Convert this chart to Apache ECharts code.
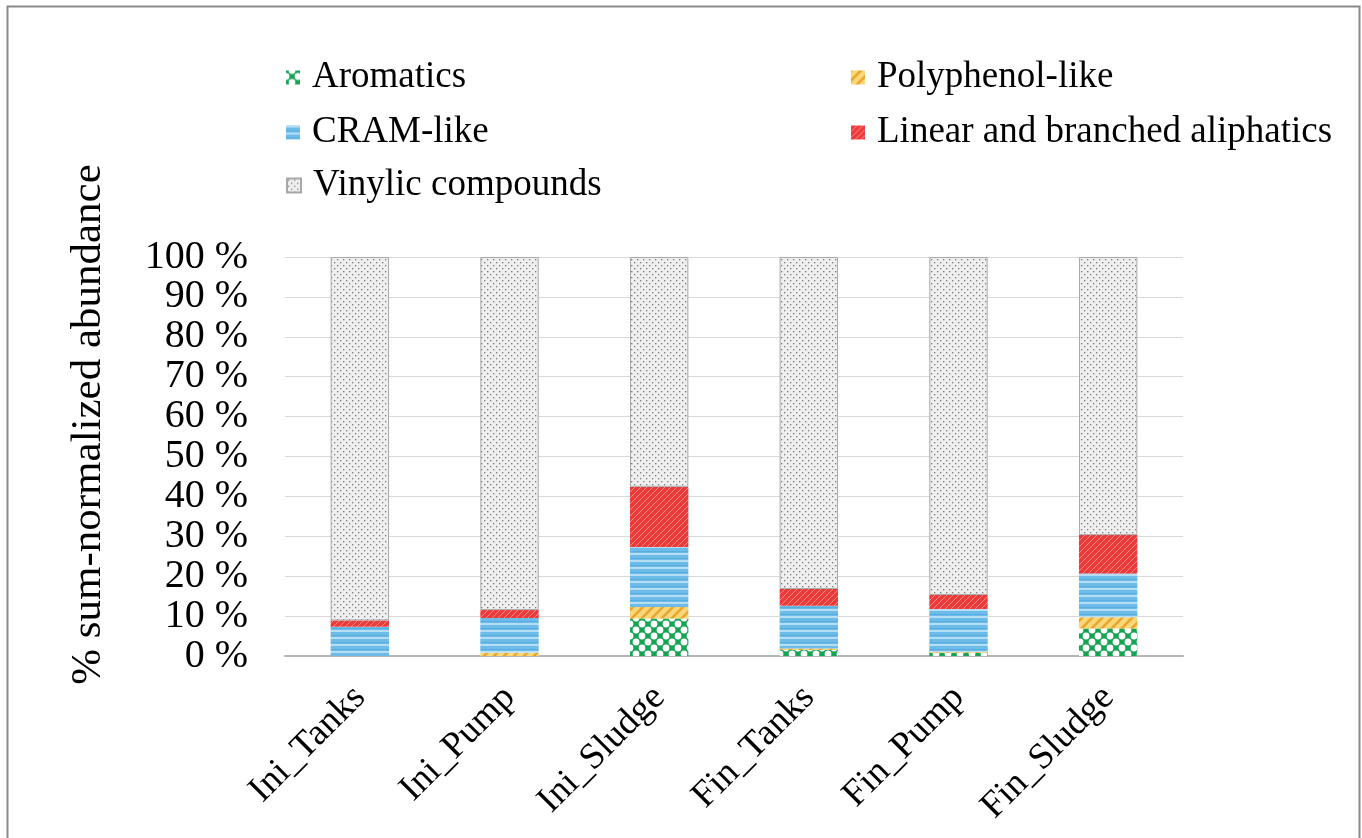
<!DOCTYPE html>
<html>
<head>
<meta charset="utf-8">
<script src="https://cdn.jsdelivr.net/npm/echarts@6/dist/echarts.min.js"></script>
<style>html,body{margin:0;padding:0;background:#fff;}#c{width:1362px;height:838px;}</style>
</head>
<body>
<div id="c"></div>
<script>
const categories = ['Ini_Tanks', 'Ini_Pump', 'Ini_Sludge', 'Fin_Tanks', 'Fin_Pump', 'Fin_Sludge'];
const aromatics = [0, 0, 9.4, 1.5, 0.8, 6.9];
const polyphenol = [0, 0.8, 2.9, 0.4, 0.2, 2.8];
const cram = [7.3, 8.7, 15.0, 10.7, 10.8, 11.0];
const linear = [1.6, 2.0, 15.1, 4.2, 3.5, 9.6];
const vinylic = [91.1, 88.5, 57.6, 83.2, 84.7, 69.7];
const yTicks = [0, 10, 20, 30, 40, 50, 60, 70, 80, 90, 100];

function tile(w, h, draw) {
  const c = document.createElement('canvas');
  c.width = w; c.height = h;
  draw(c.getContext('2d'), w, h);
  return { image: c, repeat: 'repeat' };
}
const patArom = tile(12, 12, (g, w, h) => {
  g.fillStyle = '#13a552'; g.fillRect(0, 0, w, h);
  g.fillStyle = '#ffffff';
  [[6,0],[6,12],[0,6],[12,6]].forEach(([x,y]) => { g.beginPath(); g.arc(x, y, 3.4, 0, Math.PI*2); g.fill(); });
});
const patPoly = tile(10, 10, (g, w, h) => {
  g.fillStyle = '#f8d77a'; g.fillRect(0, 0, w, h);
  g.strokeStyle = '#eaa52a'; g.lineWidth = 2.5;
  g.beginPath(); g.moveTo(0, 10); g.lineTo(10, 0); g.stroke();
  g.beginPath(); g.moveTo(-5, 5); g.lineTo(5, -5); g.stroke();
  g.beginPath(); g.moveTo(5, 15); g.lineTo(15, 5); g.stroke();
});
const patCram = tile(4, 7, (g, w, h) => {
  g.fillStyle = '#6dbbe8'; g.fillRect(0, 0, w, h);
  g.fillStyle = '#b5def5'; g.fillRect(0, 0, w, 2);
  g.fillStyle = '#58aee0'; g.fillRect(0, 5, w, 1);
});
const patLin = tile(6, 6, (g, w, h) => {
  g.fillStyle = '#ef3a3a'; g.fillRect(0, 0, w, h);
  g.strokeStyle = '#f58d8d'; g.lineWidth = 1;
  g.beginPath(); g.moveTo(0, 6); g.lineTo(6, 0); g.stroke();
  g.beginPath(); g.moveTo(-3, 3); g.lineTo(3, -3); g.stroke();
  g.beginPath(); g.moveTo(3, 9); g.lineTo(9, 3); g.stroke();
});
const patVin = tile(6, 6, (g, w, h) => {
  g.fillStyle = '#efefef'; g.fillRect(0, 0, w, h);
  g.fillStyle = '#7a7a7a';
  g.fillRect(1, 1, 1.3, 1.3);
  g.fillRect(4, 4, 1.3, 1.3);
});

const font = '"Liberation Serif", "Times New Roman", serif';
const names = ['Aromatics', 'Polyphenol-like', 'CRAM-like', 'Linear and branched aliphatics', 'Vinylic compounds'];
const legendPos = [[281, 54], [846, 54], [281, 109], [846, 109], [281, 162]];

function mkLegend(i) {
  return {
    data: [names[i]], left: legendPos[i][0], top: legendPos[i][1],
    itemWidth: 14, itemHeight: 14, icon: 'rect', selectedMode: false,
    textStyle: { fontFamily: font, fontSize: 37, color: '#000', padding: [0, 0, 0, 7] }
  };
}

function mkSeries(name, data, pat, extra) {
  return Object.assign({
    name, type: 'bar', stack: 'total', data, barWidth: '39%',
    itemStyle: { color: pat },
    emphasis: { disabled: true }
  }, extra || {});
}

const chart = echarts.init(document.getElementById('c'));
chart.setOption({
  animation: false,
  backgroundColor: '#ffffff',
  graphic: [{
    type: 'rect', left: 5, top: 4,
    shape: { width: 1352, height: 900 },
    style: { fill: 'none', stroke: '#8a8a8a', lineWidth: 2 }, silent: true
  }],
  legend: [0, 1, 2, 3, 4].map(mkLegend),
  grid: { left: 285, right: 179, top: 257, bottom: 182 },
  xAxis: {
    type: 'category', data: categories,
    axisLine: { lineStyle: { color: '#b5b5b5', width: 2 } },
    axisTick: { show: false },
    axisLabel: { rotate: 45, margin: 36, fontFamily: font, fontSize: 37, color: '#000' }
  },
  yAxis: {
    type: 'value', min: yTicks[0], max: yTicks[yTicks.length - 1], interval: 10,
    name: '% sum-normalized abundance', nameLocation: 'middle', nameGap: 175,
    nameTextStyle: { fontFamily: font, fontSize: 43, color: '#000', padding: [0, 0, 0, 64] },
    axisLine: { show: false }, axisTick: { show: false },
    splitLine: { lineStyle: { color: '#d9d9d9', width: 1 } },
    axisLabel: {
      formatter: '{value} %', margin: 37, fontFamily: font, fontSize: 40,
      color: '#000', showMinLabel: true, showMaxLabel: true
    }
  },
  series: [
    mkSeries(names[0], aromatics, patArom),
    mkSeries(names[1], polyphenol, patPoly),
    mkSeries(names[2], cram, patCram),
    mkSeries(names[3], linear, patLin),
    mkSeries(names[4], vinylic, patVin, { itemStyle: { color: patVin, borderColor: '#a8a8a8', borderWidth: 1 } })
  ]
});
</script>
</body>
</html>
